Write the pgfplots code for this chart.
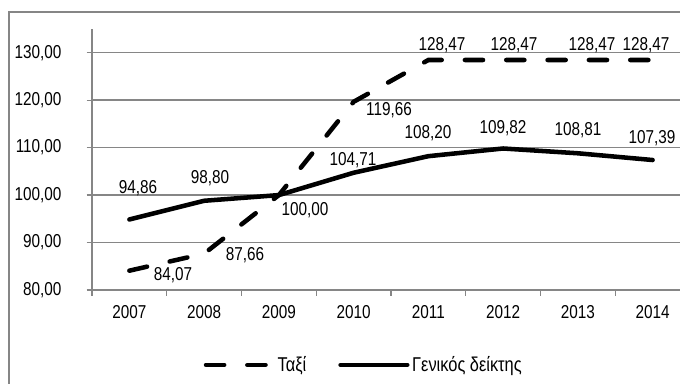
\documentclass[border=0pt]{standalone}
\usepackage{fontspec}
\setmainfont{Liberation Sans}[FakeStretch=0.82]
\usepackage{pgfplots}
\pgfplotsset{compat=1.18}
\definecolor{gridgray}{RGB}{134,134,134}
\begin{document}
\fontsize{14}{16}\selectfont
\begin{tikzpicture}
\draw[gridgray, line width=1.1pt] (6.75pt,279pt) rectangle (530pt,-20pt);
\begin{axis}[
  at={(69pt,70.5pt)}, anchor=south west,
  scale only axis, width=448.5pt, height=195.75pt,
  xmin=-0.5, xmax=7.5, ymin=80, ymax=135,
  axis x line*=bottom, axis y line*=left,
  axis line style={gridgray, line width=1.1pt, -},
  xtick={0,...,7},
  xticklabels={2007,2008,2009,2010,2011,2012,2013,2014},
  minor xtick={-0.5,0.5,...,7.5},
  major x tick style={draw=none},
  minor x tick style={gridgray, line width=1pt},
  ytick={80,90,...,130},
  y tick style={gridgray, line width=1pt},
  tick align=outside,
  major tick length=4pt, minor tick length=4.5pt,
  ymajorgrids, major grid style={gridgray, line width=1.1pt},
  /pgf/number format/assume math mode=true,
  y tick label style={/pgf/number format/fixed, /pgf/number format/fixed zerofill, /pgf/number format/precision=2, /pgf/number format/use comma, /pgf/number format/1000 sep={}, xshift=-14pt},
  xticklabel style={yshift=-3pt},
  ticklabel style={font=\fontsize{14}{16}\selectfont},
  clip=false,
  legend columns=2,
  legend style={draw=none, fill=none, at={(0.455,-0.287)}, anchor=center,
    font=\fontsize{15}{17}\selectfont,
    /tikz/every even column/.append style={column sep=22pt}},
  legend image code/.code={\draw[#1] (0pt,0pt) -- (50pt,0pt);},
]
\addplot[black, line width=3.4pt, line cap=round, dash pattern=on 13.6pt off 17.4pt]
  coordinates {(0,84.07) (1,87.66) (2,100.00) (3,119.66) (4,128.47) (5,128.47) (6,128.47) (7,128.47)};
\addlegendentry{Ταξί}
\addplot[black, line width=3.4pt, line cap=round, line join=round]
  coordinates {(0,94.86) (1,98.80) (2,100.00) (3,104.71) (4,108.20) (5,109.82) (6,108.81) (7,107.39)};
\addlegendentry{Γενικός δείκτης}
% data labels
\node at (axis cs:0.584,83.16) {84,07};
\node at (axis cs:1.547,87.38) {87,66};
\node at (axis cs:3.473,117.93) {119,66};
\node at (axis cs:4.182,131.63) {128,47};
\node at (axis cs:5.145,131.63) {128,47};
\node at (axis cs:6.189,131.63) {128,47};
\node at (axis cs:6.911,131.63) {128,47};
\node at (axis cs:0.115,101.5) {94,86};
\node at (axis cs:1.079,103.6) {98,80};
\node at (axis cs:2.35,96.86) {100,00};
\node at (axis cs:2.992,107.4) {104,71};
\node at (axis cs:3.995,113.09) {108,20};
\node at (axis cs:4.998,114.14) {109,82};
\node at (axis cs:6.002,113.72) {108,81};
\node at (axis cs:6.992,112.03) {107,39};
\end{axis}
\pgfresetboundingbox
\path[use as bounding box] (0,0) rectangle (510pt,288pt);
\end{tikzpicture}
\end{document}
